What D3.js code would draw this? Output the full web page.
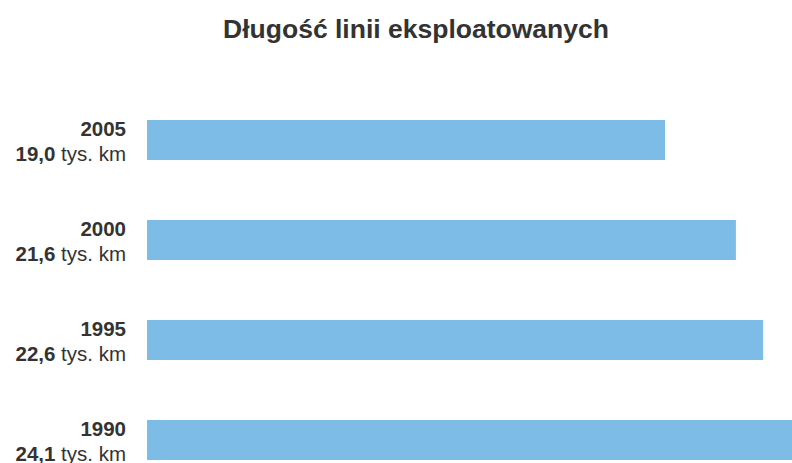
<!DOCTYPE html>
<html><head><meta charset="utf-8">
<script src="https://cdn.jsdelivr.net/npm/d3@7"></script>
<style>body{margin:0;background:#fff}svg{display:block}</style>
</head><body>
<script>
const years = ["2005","2000","1995","1990"];
const values = [19.0, 21.6, 22.6, 24.1];
const valueLabels = ["19,0","21,6","22,6","24,1"];
const unit = " tys. km";
const title = "Długość linii eksploatowanych";

const W = 792, H = 463;
const svg = d3.select("body").append("svg").attr("width", W).attr("height", H);
const x = d3.scaleLinear().domain([0, 19.0]).range([147, 665]);
const y = d3.scaleBand().domain(years).range([120, 460]).paddingInner(0.6).paddingOuter(0);

svg.append("text").attr("x", 416).attr("y", 38).attr("text-anchor", "middle")
  .attr("font-family", "Liberation Sans, Arial, sans-serif").attr("font-weight", "bold")
  .attr("font-size", 26.5).attr("fill", "#333").text(title);

svg.selectAll("rect.bar").data(years).join("rect").attr("class", "bar")
  .attr("x", x(0)).attr("y", d => y(d)).attr("height", y.bandwidth())
  .attr("width", (d, i) => x(values[i]) - x(0)).attr("fill", "#7dbce6");

const g = svg.selectAll("g.lab").data(years).join("g").attr("class", "lab")
  .attr("font-family", "Liberation Sans, Arial, sans-serif").attr("font-size", 20.5).attr("fill", "#333");
g.append("text").attr("x", 126).attr("y", d => y(d) + 15.5).attr("text-anchor", "end")
  .attr("font-weight", "bold").text(d => d);
const t2 = g.append("text").attr("x", 126).attr("y", d => y(d) + 40.5).attr("text-anchor", "end");
t2.append("tspan").attr("font-weight", "bold").text((d, i) => valueLabels[i]);
t2.append("tspan").text(unit);
</script>
</body></html>
